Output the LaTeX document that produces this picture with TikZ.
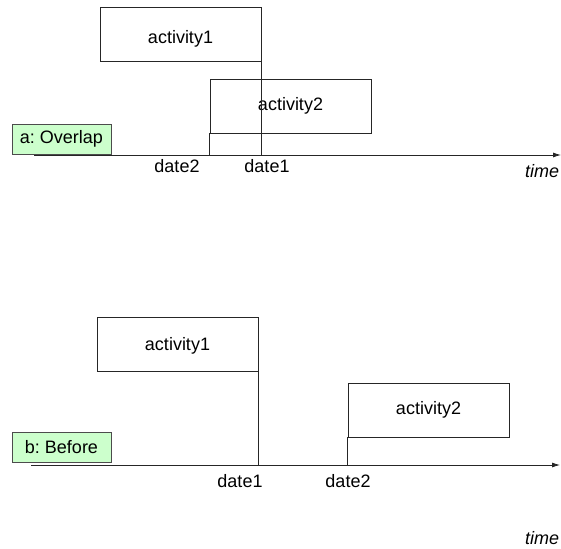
\documentclass[tikz,border=0pt]{standalone}
\usepackage{fontspec}
\setmainfont{Liberation Sans}
\usetikzlibrary{arrows.meta}
\definecolor{tagfill}{HTML}{CCFFCC}
\frenchspacing
% lower a label's ink while keeping its measured size
\newcommand{\lowerby}[2]{\raisebox{-#1}[\height][\depth]{#2}}
\tikzset{
  px/.style={x=1pt,y=-1pt},
  lbl/.style={font=\fontsize{18}{20}\selectfont},
  actbox/.style={lbl,draw=black!85,line width=0.8pt,minimum width=161pt,minimum height=54pt,inner sep=0pt},
  tagbox/.style={lbl,draw=black!70,fill=tagfill,line width=0.8pt,minimum width=99pt,minimum height=30pt,inner sep=0pt},
  datelbl/.style={lbl,inner sep=0pt},
  timelbl/.style={inner sep=0pt,font=\fontsize{18}{20}\selectfont\itshape},
  axis/.style={draw=black!85,line width=0.8pt,-{Latex[length=8pt,width=5pt]}},
  dateline/.style={draw=black!85,line width=0.8pt}
}
\begin{document}
\begin{tikzpicture}[px]
\useasboundingbox (0,0) rectangle (561,548);
% --- a: Overlap ---
\node[actbox] (a1) at (180.5,34) {\lowerby{5pt}{activity1}};
\node[actbox] (a2) at (290.5,106) {activity2};
\coordinate (ax0) at (34,155);
\coordinate (ax1) at (561,155);
\draw[axis] (ax0) -- (ax1);
\coordinate (d1a) at (a1.south east |- ax0);
\coordinate (d2a) at (a2.south west |- ax0);
\draw[dateline] (a1.south east) -- (d1a);
\draw[dateline] (a2.south west) -- (d2a);
\node[tagbox] (ta) at (61.5,139) {a: Overlap};
\node[datelbl] (l2a) at (177,166) {date2};
\node[datelbl] (l1a) at (267,166) {date1};
\node[timelbl] (tma) at (542,171) {time};
% --- b: Before ---
\node[actbox] (b1) at (177.5,344) {\lowerby{2pt}{activity1}};
\node[actbox] (b2) at (428.5,410) {activity2};
\coordinate (bx0) at (31,465);
\coordinate (bx1) at (560,465);
\draw[axis] (bx0) -- (bx1);
\coordinate (d1b) at (b1.south east |- bx0);
\coordinate (d2b) at (b2.south west |- bx0);
\draw[dateline] (b1.south east) -- (d1b);
\draw[dateline] (b2.south west) -- (d2b);
\node[tagbox] (tb) at (61.5,447) {b: Before};
\node[datelbl] (l1b) at (240,481) {date1};
\node[datelbl] (l2b) at (348,481) {date2};
\node[timelbl] (tmb) at (542,538) {time};
\end{tikzpicture}
\end{document}
